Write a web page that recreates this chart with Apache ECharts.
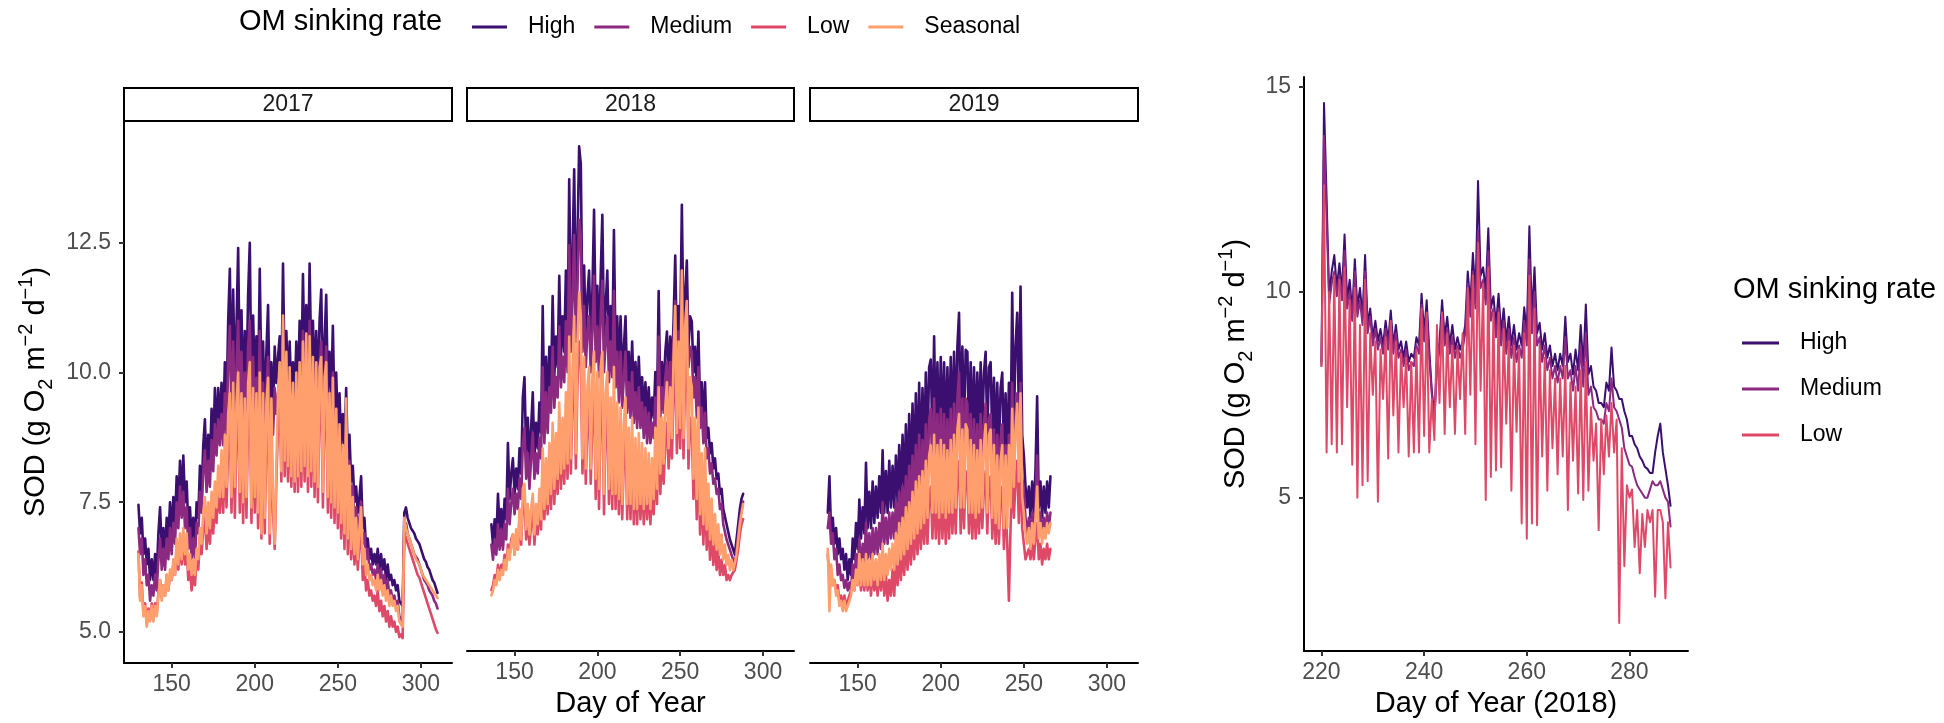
<!DOCTYPE html>
<html>
<head>
<meta charset="utf-8">
<script src="https://cdn.jsdelivr.net/npm/echarts/dist/echarts.min.js"></script>
<style>
html,body{margin:0;padding:0;background:#fff;}
#chart{width:1944px;height:723px;}
</style>
</head>
<body>
<div id="chart"></div>
<script>
// ---------------- DATA ----------------
const years = ['2017', '2018', '2019'];
const rates = ['High', 'Medium', 'Low', 'Seasonal'];
const xTicksFacet = [150, 200, 250, 300];
const yTicksFacet = [5, 7.5, 10, 12.5];
const xTicksRight = [220, 240, 260, 280];
const yTicksRight = [5, 10, 15];

// first day of each series (one value per day)
const start2017 = 130;
const start2018 = 136;
const start2019 = 132;

const high2017 = [
7.45,6.9,7.2,6.5,6.8,6.3,6.6,6.0,6.4,6.0,
6.5,6.1,6.9,7.4,6.6,7.0,6.5,7.2,6.8,7.5,
6.9,7.6,7.1,8.0,7.4,8.3,7.6,8.4,7.5,7.9,
7.0,7.4,6.8,7.2,6.7,7.5,7.2,8.2,7.6,8.6,
9.1,8.0,8.8,8.2,9.3,8.5,9.7,8.8,9.7,9.0,
9.8,9.0,10.2,9.3,11.0,12.0,9.6,11.6,9.8,10.9,
12.4,9.9,11.2,9.5,10.8,9.8,11.5,12.5,9.6,11.1,
9.8,10.7,9.6,12.0,9.8,10.6,9.2,10.4,11.3,9.4,
10.2,9.3,10.5,9.8,10.3,10.7,9.6,12.1,9.9,10.8,
9.7,10.6,9.6,10.2,9.5,10.6,9.6,11.0,9.8,11.9,
10.1,11.3,9.9,12.1,10.2,11.0,9.8,10.8,9.6,11.0,
11.6,9.7,10.6,11.5,9.6,10.4,9.5,10.9,9.2,10.0,
8.9,9.6,8.6,9.2,8.5,9.7,8.3,8.8,7.9,8.2,
7.5,7.8,7.3,7.6,8.0,7.0,7.2,6.6,6.8,6.4,
6.6,6.3,6.5,6.3,6.6,6.2,6.5,6.2,6.4,6.0,
6.3,6.0,6.1,5.9,6.0,5.8,5.9,5.6,5.6,5.5,
7.3,7.4,7.2,7.1,7.0,6.95,6.9,6.8,6.75,6.7,
6.6,6.5,6.4,6.35,6.25,6.2,6.1,6.0,5.95,5.85,5.75];

const medium2017 = [
7.0,6.5,6.8,6.1,6.4,5.9,6.1,5.6,5.9,5.7,
6.1,5.8,6.4,6.8,6.2,6.6,6.2,6.8,6.4,7.0,
6.5,7.1,6.7,7.5,7.0,7.8,7.2,7.7,7.0,7.4,
6.6,7.0,6.4,6.8,6.4,7.1,6.9,7.7,7.3,8.1,
8.5,7.7,8.3,7.8,8.7,8.1,9.0,8.4,9.1,8.6,
9.2,8.6,9.6,8.8,10.2,10.9,9.0,10.6,9.2,10.1,
11.0,9.3,10.4,9.0,10.0,9.2,10.5,11.0,9.1,10.3,
9.2,9.9,9.0,10.8,9.2,9.8,8.7,9.6,10.3,8.8,
9.5,8.8,9.7,9.2,9.6,9.9,9.0,11.0,9.3,10.0,
9.1,9.8,9.0,9.5,8.9,9.8,9.0,10.2,9.2,10.8,
9.5,10.4,9.3,11.0,9.6,10.2,9.2,10.0,9.0,10.1,
10.6,9.1,9.8,10.5,9.0,9.6,8.9,10.0,8.6,9.3,
8.4,8.9,8.1,8.6,8.0,9.0,7.8,8.3,7.5,7.8,
7.1,7.4,6.9,7.2,7.5,6.7,6.9,6.4,6.6,6.2,
6.3,6.1,6.2,6.0,6.3,6.0,6.2,5.9,6.1,5.8,
6.0,5.7,5.8,5.6,5.7,5.5,5.6,5.3,5.3,5.2,
7.0,7.1,6.9,6.8,6.7,6.6,6.5,6.45,6.4,6.3,
6.2,6.1,6.0,5.95,5.9,5.8,5.75,5.7,5.6,5.55,5.45];

const low2017 = [
6.55,5.65,5.95,5.35,5.55,5.15,5.45,5.25,5.55,5.25,
5.55,5.35,5.75,6.0,5.65,5.9,5.7,6.1,5.8,6.1,
6.0,6.3,6.1,6.6,6.2,6.7,6.3,6.8,6.3,6.6,
6.0,6.2,5.8,6.1,5.9,6.4,6.2,6.8,6.5,7.0,
7.2,6.6,7.1,6.7,7.3,6.9,7.5,7.1,7.8,7.3,
8.0,7.3,8.3,7.4,8.6,9.0,7.3,9.2,7.2,8.8,
9.3,7.3,9.0,7.1,8.9,7.2,9.1,9.5,7.1,9.0,
7.3,8.9,7.0,9.3,6.8,8.9,6.9,8.7,9.2,6.7,
8.8,7.3,6.6,7.9,9.0,9.5,7.9,10.2,8.0,9.6,
7.9,9.4,7.8,9.2,7.7,9.3,7.7,9.5,7.8,9.8,
7.9,9.9,7.7,9.9,7.8,9.6,7.6,9.5,7.5,9.4,
9.6,7.4,9.2,9.5,7.3,8.9,7.2,9.2,7.1,8.6,
7.0,8.4,6.8,8.0,6.6,8.8,6.5,7.6,6.4,7.1,
6.3,6.9,6.2,6.7,7.0,6.0,6.3,5.8,6.0,5.7,
5.8,5.6,5.7,5.5,5.8,5.4,5.6,5.3,5.5,5.2,
5.4,5.1,5.3,5.1,5.2,5.0,5.1,4.9,4.95,4.88,
6.9,6.8,6.7,6.6,6.5,6.4,6.3,6.2,6.1,6.05,
5.95,5.85,5.75,5.65,5.55,5.45,5.35,5.25,5.15,5.05,4.98];

const seasonal2017 = [
6.5,5.6,5.9,5.3,5.5,5.1,5.4,5.2,5.5,5.2,
5.5,5.3,5.7,6.0,5.6,5.9,5.7,6.1,5.8,6.2,
6.0,6.4,6.1,6.8,6.3,6.9,6.4,7.0,6.5,6.9,
6.2,6.5,6.1,6.4,6.1,6.6,6.4,7.0,6.7,7.3,
7.6,6.9,7.5,7.0,7.7,7.2,7.9,7.4,8.2,7.6,
8.5,7.6,8.8,7.8,9.2,9.6,7.6,9.8,7.8,9.4,
10.0,7.7,9.6,7.5,9.5,7.6,9.8,10.2,7.4,9.7,
7.6,9.6,7.3,10.0,6.9,9.6,7.2,9.4,9.9,6.9,
9.5,7.6,6.7,8.2,9.6,10.2,8.1,11.1,8.3,10.4,
8.2,10.1,8.0,9.8,7.9,10.0,8.0,10.2,8.1,10.6,
8.2,10.75,8.0,10.7,8.1,10.3,7.9,10.2,7.8,10.1,
10.3,7.7,9.9,10.2,7.6,9.6,7.5,9.9,7.4,9.3,
7.3,9.0,7.1,8.6,6.9,9.5,6.8,8.2,6.6,7.6,
6.5,7.2,6.4,7.0,7.4,6.3,6.6,6.1,6.3,6.0,
6.1,5.9,6.0,5.8,6.1,5.8,6.0,5.7,5.9,5.6,
5.8,5.5,5.7,5.5,5.6,5.4,5.5,5.2,5.2,5.1,
7.2,7.0,6.9,6.8,6.7,6.6,6.5,6.4,6.35,6.3,
6.2,6.1,6.05,6.0,5.95,5.9,5.85,5.8,5.75,5.7,5.65];

const high2018 = [
6.9,6.5,7.0,6.6,7.5,6.8,7.2,6.7,7.4,7.0,
8.5,7.4,7.9,8.2,7.5,8.0,7.6,8.4,7.9,9.4,
9.8,8.3,9.0,8.1,8.8,9.5,8.2,8.9,8.4,9.3,
8.7,11.2,9.0,10.2,9.2,10.4,9.6,11.4,9.8,10.6,
10.0,11.8,10.2,11.0,10.3,11.9,10.5,13.7,11.0,12.2,
13.9,11.2,12.5,14.35,14.0,11.0,12.0,10.6,11.4,11.9,
10.5,11.5,13.1,10.8,11.6,10.4,11.8,13.0,10.6,11.2,
11.9,10.3,11.2,10.4,12.7,10.2,11.0,9.9,11.0,9.8,
10.4,11.0,9.6,10.3,9.5,10.5,9.4,10.1,9.3,10.2,
9.3,9.8,9.1,9.7,9.0,9.6,8.9,9.4,9.0,9.9,
9.2,11.5,9.4,10.1,9.5,10.3,10.7,9.7,10.6,9.9,
10.9,12.2,10.3,11.2,10.6,13.2,10.7,11.4,12.1,10.4,
11.0,10.9,9.9,10.4,9.5,10.7,9.2,9.7,8.9,9.7,
8.6,8.8,8.3,8.5,8.0,8.2,7.8,7.9,7.5,7.6,
7.2,7.2,6.9,6.9,6.6,6.6,6.4,6.3,6.6,6.9,
7.2,7.4,7.5];

const medium2018 = [
6.5,6.2,6.6,6.3,6.9,6.4,6.8,6.4,6.9,6.6,
7.6,6.9,7.3,7.6,7.1,7.5,7.2,7.8,7.4,8.5,
8.8,7.8,8.3,7.6,8.2,8.7,7.8,8.3,7.9,8.6,
8.2,10.0,8.5,9.5,8.7,9.6,9.1,10.4,9.2,9.8,
9.4,10.8,9.6,10.2,9.7,10.9,9.9,12.4,10.3,11.3,
12.6,10.5,11.6,12.9,12.6,10.3,11.2,10.0,10.7,11.0,
9.9,10.7,11.8,10.1,10.8,9.8,11.0,11.7,9.9,10.5,
11.0,9.7,10.5,9.8,11.5,9.6,10.3,9.3,10.3,9.2,
9.8,10.3,9.1,9.7,9.0,9.9,8.9,9.5,8.8,9.6,
8.8,9.3,8.6,9.2,8.5,9.1,8.5,8.9,8.6,9.4,
8.8,10.6,9.0,9.6,9.1,9.8,10.1,9.3,10.1,9.6,
10.5,11.3,10.0,10.7,10.3,11.9,10.3,10.9,11.3,10.0,
10.4,10.3,9.4,9.8,9.0,10.0,8.8,9.2,8.5,9.1,
8.2,8.4,7.9,8.1,7.7,7.8,7.5,7.6,7.2,7.3,
6.9,6.9,6.6,6.6,6.4,6.4,6.2,6.1,6.4,6.7,
7.0,7.2,7.35];

const low2018 = [
5.6,5.7,5.9,5.8,6.1,5.9,6.1,6.0,6.3,6.1,
6.5,6.3,6.6,6.7,6.3,6.7,6.4,7.0,6.5,7.3,
7.4,6.6,7.0,6.5,6.9,7.2,6.5,7.0,6.7,7.3,
6.8,8.0,7.0,7.8,7.1,8.0,7.2,8.4,7.3,8.2,
7.5,8.8,7.6,8.5,7.7,8.9,7.8,9.8,7.9,9.3,
10.2,8.0,9.7,10.5,10.1,7.9,9.4,7.7,8.9,9.2,
7.7,9.0,9.5,7.4,9.1,7.2,9.2,9.5,7.1,8.8,
9.1,7.3,8.7,7.2,9.2,7.2,8.6,7.1,8.5,7.0,
8.2,8.7,7.0,8.2,7.0,8.3,6.9,8.0,6.9,8.0,
7.0,7.9,6.9,7.8,7.0,7.7,6.9,7.6,7.1,8.1,
7.3,8.9,7.5,8.4,7.7,8.5,8.9,8.0,8.8,8.2,
9.4,10.3,8.3,9.7,8.4,10.9,8.2,9.9,10.4,8.0,
9.0,8.8,7.4,8.3,7.0,8.4,6.7,7.7,6.5,7.7,
6.4,7.1,6.2,6.8,6.1,6.6,6.0,6.4,5.9,6.2,
5.9,6.1,5.8,5.9,5.8,5.9,5.9,6.0,6.2,6.4,
6.7,6.9,7.0];

const seasonal2018 = [
5.5,5.6,5.8,5.7,6.0,5.8,6.0,5.9,6.2,6.0,
6.4,6.2,6.5,6.7,6.3,6.8,6.4,7.2,6.6,7.6,
7.7,6.8,7.3,6.7,7.2,7.5,6.7,7.3,6.9,7.6,
7.0,8.4,7.2,8.2,7.3,8.5,7.5,8.9,7.6,8.7,
7.8,9.3,7.9,9.0,8.0,9.5,8.1,10.6,8.2,10.0,
11.0,8.3,10.5,11.47,11.0,8.2,10.2,8.0,9.6,10.0,
8.0,9.8,10.3,7.8,9.9,7.6,10.0,10.3,7.5,9.5,
9.9,7.6,9.4,7.5,10.0,7.5,9.3,7.4,9.2,7.3,
8.9,9.4,7.3,8.8,7.3,9.0,7.2,8.6,7.2,8.7,
7.3,8.5,7.2,8.4,7.3,8.3,7.2,8.2,7.4,8.8,
7.6,9.6,7.9,9.0,8.1,9.2,9.7,8.4,9.6,8.6,
10.2,11.2,8.7,10.5,8.8,11.9,8.6,10.8,11.3,8.4,
9.8,9.6,7.8,9.0,7.4,9.2,7.1,8.3,6.9,8.4,
6.8,7.7,6.6,7.4,6.5,7.1,6.4,6.9,6.3,6.7,
6.2,6.5,6.1,6.3,6.0,6.2,6.0,6.0,6.3,6.6,
6.9,7.1,7.3];

const high2019 = [
7.3,8.0,6.9,7.2,6.7,7.0,6.5,6.8,6.4,6.6,
6.2,6.5,6.0,6.4,6.1,6.8,6.4,7.1,6.6,7.55,
6.8,7.4,6.9,8.26,7.0,7.7,7.0,7.9,7.1,7.8,
7.2,8.0,7.3,8.5,7.3,8.1,7.3,8.3,7.4,8.2,
7.4,8.4,7.5,8.6,7.6,8.8,7.7,9.0,7.8,9.2,
7.9,9.4,8.0,9.6,8.1,9.8,8.2,9.7,8.4,10.0,
8.5,10.1,10.25,8.6,10.7,8.7,10.2,8.6,10.3,8.7,
10.2,8.6,10.1,8.7,10.3,8.8,10.4,8.8,10.5,11.15,
8.9,10.5,8.9,10.44,10.4,8.8,10.2,8.7,10.1,8.7,
10.0,8.8,10.2,8.9,10.0,10.4,8.8,10.1,10.2,8.7,
9.9,8.6,9.8,8.5,9.7,10.0,8.4,9.6,8.3,9.8,
8.6,11.54,9.0,10.5,11.15,9.2,11.66,8.8,8.4,7.8,
7.4,7.8,7.2,7.9,7.3,8.1,9.54,7.4,7.9,7.2,
7.8,7.3,7.9,7.4,8.0];

const medium2019 = [
7.0,7.3,6.7,6.9,6.4,6.6,6.1,6.3,6.0,6.1,
5.85,6.0,5.8,5.95,5.8,6.3,6.0,6.5,6.1,6.8,
6.2,6.7,6.3,7.1,6.4,6.9,6.4,7.0,6.5,7.0,
6.5,7.1,6.6,7.5,6.7,7.2,6.7,7.3,6.8,7.3,
6.8,7.5,6.9,7.7,7.0,7.8,7.1,8.0,7.2,8.2,
7.3,8.4,7.4,8.6,7.5,8.8,7.6,8.7,7.7,9.0,
7.8,9.1,9.3,7.9,9.5,8.0,9.2,7.9,9.3,8.0,
9.2,7.9,9.1,8.0,9.3,8.0,9.4,8.1,9.5,10.0,
8.1,9.5,8.1,9.5,9.4,8.0,9.2,7.9,9.1,7.9,
9.0,8.0,9.2,8.1,9.0,9.4,8.0,9.1,9.2,7.9,
8.9,7.8,8.8,7.7,8.7,9.0,7.6,8.6,7.5,8.8,
7.8,9.8,8.2,9.2,9.6,8.3,9.8,8.0,7.7,7.2,
6.9,7.2,6.8,7.3,6.9,7.4,8.4,7.0,7.3,6.8,
7.2,6.9,7.3,7.0,7.3];

const low2019 = [
6.5,6.0,6.2,5.9,6.0,5.8,5.9,5.6,5.7,5.5,
5.7,5.5,5.6,5.6,5.8,6.0,5.8,6.1,5.9,6.2,
5.8,6.2,5.8,6.3,5.8,6.2,5.7,6.2,5.8,6.1,
5.7,6.2,5.8,6.3,5.7,6.1,5.6,6.0,5.7,6.2,
5.7,6.4,5.9,6.5,6.0,6.6,6.1,6.8,6.2,6.9,
6.3,7.0,6.4,7.2,6.5,7.3,6.6,7.4,6.7,7.5,
6.7,7.6,7.8,6.8,7.9,6.8,7.8,6.7,7.9,6.8,
7.8,6.7,7.7,6.8,7.9,6.9,7.9,6.9,8.0,8.3,
6.9,8.0,7.0,8.1,8.0,6.9,7.9,6.8,7.8,6.8,
7.7,6.9,7.9,7.0,7.8,8.1,6.9,7.9,8.0,6.8,
7.8,6.7,7.6,6.7,7.6,7.8,6.6,7.6,6.7,5.6,
7.0,8.2,7.2,7.9,8.3,7.1,8.4,7.0,6.7,6.4,
6.4,6.6,6.4,6.7,6.4,6.8,7.1,6.4,6.7,6.3,
6.6,6.4,6.7,6.4,6.6];

const seasonal2019 = [
6.6,5.4,6.3,5.9,6.0,5.7,5.8,5.5,5.6,5.4,
5.6,5.4,5.5,5.5,5.7,6.0,5.8,6.2,5.9,6.5,
5.9,6.4,5.9,6.5,5.9,6.4,5.9,6.5,6.0,6.4,
5.9,6.5,6.0,6.7,6.0,6.5,6.1,6.6,6.2,6.7,
6.2,6.9,6.3,7.1,6.4,7.2,6.5,7.4,6.6,7.5,
6.7,7.7,6.8,7.9,6.9,8.0,7.0,8.1,7.1,8.3,
7.2,8.4,8.6,7.3,8.8,7.3,8.6,7.2,8.7,7.3,
8.6,7.2,8.5,7.3,8.7,7.3,8.8,7.4,8.9,9.2,
7.4,8.9,7.4,9.0,8.9,7.3,8.7,7.3,8.6,7.2,
8.5,7.3,8.7,7.4,8.6,9.0,7.3,8.8,8.9,7.2,
8.6,7.1,8.4,7.0,8.3,8.6,7.0,8.4,7.0,8.6,
7.4,9.3,7.8,8.9,9.4,7.9,9.6,7.6,7.3,6.9,
6.7,7.0,6.6,7.1,6.7,7.2,7.8,6.8,7.1,6.7,
7.0,6.8,7.1,6.9,7.1];

// right panel: 2018, two readings per day (every half day) from day 220
const startRight = 220;
const stepRight = 0.5;
const highRight = [8.3,
14.6,12.3, 9.9,10.5, 10.9,10.1, 10.7,10.0, 11.4,9.8, 10.3,9.5, 10.8,9.6, 10.1,9.4, 10.9,9.2, 9.6,8.9,
9.3,8.8, 9.1,8.7, 9.3,8.8, 9.55,8.7, 9.2,8.6, 8.8,8.4, 8.8,8.3, 8.5,8.4, 8.9,8.7, 9.96,9.0,
9.8,8.6, 7.6,7.0, 8.3,8.8, 9.8,8.9, 9.4,8.7, 9.2,8.6, 8.9,8.6, 8.8,9.2, 10.5,9.7, 10.95,9.9,
12.7,10.4, 10.6,10.0, 11.55,9.6, 9.9,9.2, 9.96,9.0, 9.6,8.8, 9.4,8.7, 9.2,8.6, 9.0,8.7, 9.63,9.0,
11.6,9.4, 10.6,9.0, 9.25,8.6, 9.0,8.4, 8.7,8.2, 8.5,8.1, 8.5,8.2, 9.4,8.3, 8.5,8.0, 8.6,8.1,
9.2,8.2, 9.7,8.0, 8.2,7.7, 7.6,7.3, 7.3,7.2, 7.8,7.6, 8.65,7.7, 7.6,7.4, 7.4,7.1, 6.9,6.5,
6.5,6.3, 6.2,6.0, 5.9,5.75, 5.7,5.6, 5.6,6.1, 6.5,6.8, 6.1,5.7, 5.3,4.8];

const mediumRight = [8.2,
13.8,11.8, 9.7,10.2, 10.5,9.9, 10.4,9.8, 11.0,9.6, 10.0,9.3, 10.5,9.4, 9.8,9.2, 10.5,9.0, 9.4,8.7,
9.1,8.6, 8.9,8.5, 9.1,8.6, 9.3,8.5, 9.0,8.4, 8.6,8.2, 8.6,8.1, 8.3,8.2, 8.7,8.5, 9.7,8.8,
9.5,8.4, 7.5,6.9, 8.1,8.6, 9.5,8.7, 9.1,8.5, 8.9,8.4, 8.7,8.4, 8.6,9.0, 10.2,9.4, 10.5,9.6,
11.5,10.1, 10.3,9.7, 11.0,9.3, 9.6,8.9, 9.6,8.7, 9.3,8.5, 9.1,8.4, 8.9,8.3, 8.7,8.4, 9.3,8.7,
10.8,9.0, 10.0,8.7, 8.9,8.3, 8.7,8.1, 8.4,7.9, 8.2,7.8, 8.2,7.9, 8.9,7.9, 8.1,7.6, 8.2,7.6,
8.7,7.7, 9.0,7.5, 7.7,7.2, 7.1,6.9, 6.9,6.8, 7.3,7.1, 7.9,7.2, 7.1,6.9, 6.7,6.2, 6.0,5.8,
5.75,5.5, 5.3,5.2, 5.1,5.0, 5.0,5.2, 5.4,5.3, 5.3,5.4, 5.2,5.0, 4.9,4.3];

const lowRight = [
8.2,12.6, 6.1,10.0, 6.3,10.4, 6.1,10.3, 6.3,10.6, 7.2,9.8, 5.8,10.1, 5.0,9.2, 5.3,10.3, 5.4,9.0,
7.5,8.8, 4.9,8.6, 7.4,8.9, 5.95,9.3, 7.0,8.8, 6.1,8.5, 7.2,8.4, 6.0,8.3, 6.1,8.6, 6.1,9.6,
6.5,9.5, 6.1,7.4, 6.4,9.2, 7.3,9.5, 6.55,9.0, 7.2,8.7, 6.55,8.6, 7.4,9.0, 6.55,10.1, 7.5,10.4,
6.3,11.2, 7.6,10.2, 4.94,10.6, 5.5,9.5, 5.66,9.5, 5.74,9.1, 6.8,8.8, 5.17,8.7, 6.6,8.6, 4.37,9.0,
4.0,10.4, 4.37,9.6, 4.33,8.7, 6.0,8.4, 5.17,8.1, 6.2,7.9, 5.57,7.9, 6.0,8.2, 4.7,7.8, 5.9,7.7,
5.1,8.1, 4.94,8.3, 5.17,7.2, 5.9,6.8, 4.21,6.9, 5.57,7.0, 6.0,7.3, 6.1,6.9, 1.95,6.2, 3.33,5.3,
5.0,5.2, 3.8,4.7, 3.16,4.6, 3.8,4.7, 4.4,4.7, 2.59,4.7, 4.7,4.4, 2.55,4.4, 3.3];

// ---------------- STYLE ----------------
const FONT = "'Liberation Sans', Arial, Helvetica, sans-serif";
const COLORS = { High: '#3B0F70', Medium: '#8C2981', Low: '#DE4968', Seasonal: '#FE9F6D' };
const TICK_GREY = '#4D4D4D';

const facetGrids = [
  { left: 124, top: 121, width: 328, height: 542 },
  { left: 467, top: 121, width: 327, height: 542 },
  { left: 810, top: 121, width: 328, height: 542 }
];
const rightGrid = { left: 1304, top: 77, width: 384, height: 574 };

function toXY(start, step, values) {
  return values.map((v, i) => [start + i * step, v]);
}

const facetData = [
  { start: start2017, High: high2017, Medium: medium2017, Low: low2017, Seasonal: seasonal2017 },
  { start: start2018, High: high2018, Medium: medium2018, Low: low2018, Seasonal: seasonal2018 },
  { start: start2019, High: high2019, Medium: medium2019, Low: low2019, Seasonal: seasonal2019 }
];
const rightData = { High: highRight, Medium: mediumRight, Low: lowRight };

function lineSeries(name, idx, data, width) {
  const c = COLORS[name];
  return {
    type: 'line', name: name, xAxisIndex: idx, yAxisIndex: idx, data: data,
    showSymbol: false, symbol: 'none', color: c, itemStyle: { color: c },
    lineStyle: { color: c, width: width, join: 'round', cap: 'round' },
    emphasis: { disabled: true }, silent: true, animation: false, clip: true
  };
}

const series = [];
facetData.forEach((fd, i) => {
  rates.forEach(r => series.push(lineSeries(r, i, toXY(fd.start, 1, fd[r]), 2.6)));
});
['High', 'Medium', 'Low'].forEach(r => series.push(lineSeries(r, 3, toXY(startRight, stepRight, rightData[r]), 2)));

const yName = '{a|SOD (g O}{sub|2}{a| m}{sup|\u22122}{a| d}{sup|\u22121}{a|)}';
const yNameStyle = {
  color: '#000', fontFamily: FONT,
  rich: {
    a: { fontSize: 29, fontFamily: FONT, color: '#000', lineHeight: 40 },
    sub: { fontSize: 20, fontFamily: FONT, color: '#000', verticalAlign: 'bottom', lineHeight: 22 },
    sup: { fontSize: 20, fontFamily: FONT, color: '#000', verticalAlign: 'top', lineHeight: 22 }
  }
};

const axisLine = { show: true, onZero: false, lineStyle: { color: '#000', width: 2 } };
function tick(vals) { return { show: true, customValues: vals, length: 5, lineStyle: { color: '#333', width: 2 } }; }
function label(vals, fmt) {
  const o = { show: true, customValues: vals, color: TICK_GREY, fontSize: 23, fontFamily: FONT, margin: 10 };
  if (fmt) o.formatter = fmt;
  return o;
}

const xAxes = facetGrids.map((g, i) => {
  const ax = {
    gridIndex: i, type: 'value', min: 121.3, max: 318.7,
    axisLine: axisLine, axisTick: tick(xTicksFacet), axisLabel: label(xTicksFacet),
    splitLine: { show: false }
  };
  if (i === 1) {
    ax.name = 'Day of Year'; ax.nameLocation = 'middle'; ax.nameGap = 36;
    ax.nameTextStyle = { fontSize: 29, color: '#000', fontFamily: FONT };
  }
  return ax;
});
xAxes.push({
  gridIndex: 3, type: 'value', min: 216.6, max: 291.4,
  axisLine: axisLine, axisTick: tick(xTicksRight), axisLabel: label(xTicksRight),
  splitLine: { show: false },
  name: 'Day of Year (2018)', nameLocation: 'middle', nameGap: 38,
  nameTextStyle: { fontSize: 29, color: '#000', fontFamily: FONT }
});

const yAxes = facetGrids.map((g, i) => {
  if (i > 0) return { gridIndex: i, type: 'value', min: 4.40, max: 14.85, show: false, splitLine: { show: false } };
  return {
    gridIndex: 0, type: 'value', min: 4.40, max: 14.85,
    axisLine: axisLine, axisTick: tick(yTicksFacet),
    axisLabel: Object.assign(label(yTicksFacet, v => v.toFixed(1)), { margin: 13 }),
    splitLine: { show: false },
    name: yName, nameLocation: 'middle', nameRotate: 90, nameGap: 68, nameTextStyle: yNameStyle
  };
});
yAxes.push({
  gridIndex: 3, type: 'value', min: 1.27, max: 15.23,
  axisLine: axisLine, axisTick: tick(yTicksRight),
  axisLabel: Object.assign(label(yTicksRight), { margin: 13 }),
  splitLine: { show: false },
  name: yName, nameLocation: 'middle', nameRotate: 90, nameGap: 48, nameTextStyle: yNameStyle
});

// strips + legend titles
const graphics = [];
facetGrids.forEach((g, i) => {
  graphics.push({
    type: 'rect', shape: { x: g.left, y: 88, width: g.width, height: 33 },
    style: { fill: '#fff', stroke: '#000', lineWidth: 2 }, silent: true
  });
  graphics.push({
    type: 'text', x: g.left + g.width / 2, y: 105,
    style: { text: years[i], fontSize: 23, fontFamily: FONT, fill: '#1A1A1A', align: 'center', verticalAlign: 'middle' },
    silent: true
  });
});
graphics.push({
  type: 'text', x: 239, y: 22,
  style: { text: 'OM sinking rate', fontSize: 29, fontFamily: FONT, fill: '#000', align: 'left', verticalAlign: 'middle' }
});
graphics.push({
  type: 'text', x: 1733, y: 290,
  style: { text: 'OM sinking rate', fontSize: 29, fontFamily: FONT, fill: '#000', align: 'left', verticalAlign: 'middle' }
});

const legendText = { fontSize: 23, color: '#000', fontFamily: FONT, lineHeight: 26, rich: { g: { width: 16 } } };

const option = {
  backgroundColor: '#fff',
  animation: false,
  grid: facetGrids.concat([rightGrid]),
  xAxis: xAxes,
  yAxis: yAxes,
  legend: [
    {
      left: 467, top: 9, orient: 'horizontal', data: rates,
      icon: 'rect', itemWidth: 35, itemHeight: 3, itemGap: 19,
      formatter: n => '{g|}' + n, textStyle: legendText, selectedMode: false
    },
    {
      left: 1737, top: 325, orient: 'vertical', data: ['High', 'Medium', 'Low'],
      icon: 'rect', itemWidth: 37, itemHeight: 3, itemGap: 20,
      formatter: n => '{g|}' + n, textStyle: legendText, selectedMode: false
    }
  ],
  graphic: graphics,
  series: series
};

const chart = echarts.init(document.getElementById('chart'), null, { renderer: 'canvas' });
chart.setOption(option);
</script>
</body>
</html>
